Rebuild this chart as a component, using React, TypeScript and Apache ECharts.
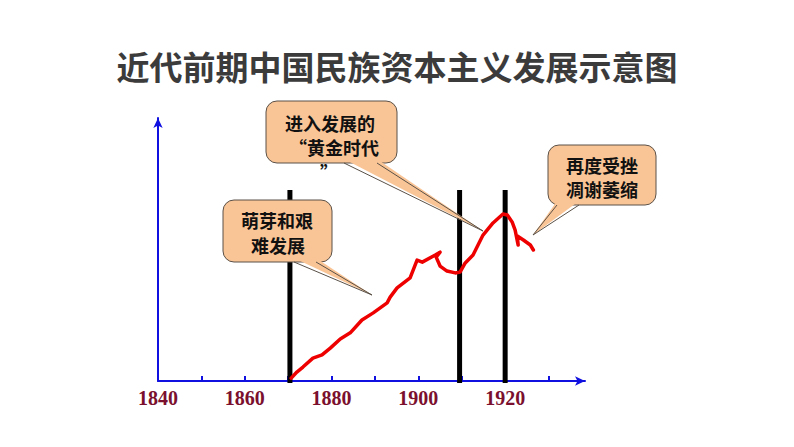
import React, { useEffect, useRef } from "react";
import * as echarts from "echarts";

const titleText = "近代前期中国民族资本主义发展示意图";
const xMin = 1840;
const xMax = 1938.4;
const tickInterval = 10;
const labelEvery = 20;

// Red development curve: [year, relative index]
const growthYears = [
  1870.7, 1872.0, 1873.4, 1875.7, 1877.8, 1879.7, 1882.0, 1884.3, 1887.0, 1889.6,
  1892.8, 1893.5, 1895.1, 1898.1, 1899.7, 1900.9, 1903.9, 1905.0, 1904.1, 1905.0,
  1906.6, 1908.5, 1909.6, 1910.8, 1912.6, 1914.9, 1917.2, 1919.5, 1920.5, 1921.6,
  1922.3, 1923.0, 1922.8, 1924.2, 1925.8, 1926.5,
];
const growthValues = [
  1.1, 3.4, 5.3, 8.7, 9.9, 12.5, 16.0, 18.3, 23.2, 25.9,
  29.7, 31.9, 35.4, 39.2, 46.0, 45.2, 47.9, 49.0, 47.1, 43.7,
  41.8, 41.1, 41.4, 44.9, 47.9, 55.5, 60.1, 63.5, 63.1, 60.5,
  57.4, 51.7, 55.1, 53.6, 51.7, 49.8,
];

// Period dividing lines
const dividerYears = [1870.4, 1909.5, 1920.0];
const dividerBottom = -0.8;
const dividerTop = 72.6;

// Callouts
const callout1Lines = ["萌芽和艰", "难发展"];
const callout2Lines = ["进入发展的", "“黄金时代", "”"];
const callout3Lines = ["再度受挫", "凋谢萎缩"];

const FILL = "#FAC596";
const BORDER = "#5a5148";
const TXT_FONT = '"Noto Sans CJK SC", sans-serif';

function callout(
  rect: { x: number; y: number; w: number; h: number },
  base: [number, number][],
  tip: [number, number],
  texts: { text: string; x: number; y: number }[]
) {
  const els: any[] = [];
  els.push({
    type: "rect",
    shape: { x: rect.x, y: rect.y, width: rect.w, height: rect.h, r: 11 },
    style: { fill: FILL, stroke: BORDER, lineWidth: 1 },
    z: 10,
  });
  els.push({
    type: "polygon",
    shape: { points: [base[0], tip, base[1]] },
    style: { fill: FILL, stroke: null },
    z: 11,
  });
  els.push({
    type: "polyline",
    shape: { points: [[base[0][0], rect.y + rect.h], tip, [base[1][0], rect.y + rect.h]] },
    style: { stroke: BORDER, lineWidth: 1, fill: null },
    z: 12,
  });
  texts.forEach((t) => {
    els.push({
      type: "text",
      x: t.x,
      y: t.y,
      style: {
        text: t.text,
        font: `bold 18px ${TXT_FONT}`,
        fill: "#111",
        align: "center",
        verticalAlign: "middle",
      },
      z: 13,
    });
  });
  return els;
}

export default function App() {
  const ref = useRef<HTMLDivElement>(null);
  useEffect(() => {
    if (!ref.current) return;
    const chart = echarts.init(ref.current, undefined, { renderer: "svg" });
    const curve = growthYears.map((y, i) => [y, growthValues[i]]);
    const dividerSeries = dividerYears.map((yr) => ({
      type: "line",
      data: [
        [yr, dividerBottom],
        [yr, dividerTop],
      ],
      symbol: "none",
      clip: false,
      lineStyle: { color: "#000", width: 5 },
      z: 3,
    }));
    const graphics = [
      ...callout(
        { x: 223, y: 200, w: 109, h: 62 },
        [
          [294, 258],
          [316, 258],
        ],
        [372, 295],
        [
          { text: callout1Lines[0], x: 277, y: 220 },
          { text: callout1Lines[1], x: 278, y: 245 },
        ]
      ),
      ...callout(
        { x: 266, y: 101, w: 131, h: 62 },
        [
          [344, 159],
          [377, 159],
        ],
        [483, 231],
        [
          { text: callout2Lines[0], x: 330, y: 123 },
          { text: callout2Lines[1], x: 334, y: 147 },
          { text: callout2Lines[2], x: 329, y: 172 },
        ]
      ),
      ...callout(
        { x: 548, y: 145, w: 108, h: 60 },
        [
          [557, 201],
          [579, 201],
        ],
        [533, 235],
        [
          { text: callout3Lines[0], x: 602, y: 165 },
          { text: callout3Lines[1], x: 602, y: 189 },
        ]
      ),
    ];
    chart.setOption({
      animation: false,
      backgroundColor: "#fff",
      title: {
        text: titleText,
        left: "center",
        top: 44,
        textStyle: {
          fontFamily: TXT_FONT,
          fontSize: 33,
          fontWeight: "bold",
          color: "#3b3b3b",
        },
      },
      grid: { left: 158, top: 118, width: 427, bottom: 66, containLabel: false },
      xAxis: {
        type: "value",
        min: xMin,
        max: xMax,
        interval: tickInterval,
        splitLine: { show: false },
        axisLine: {
          show: true,
          symbol: ["none", "arrow"],
          symbolSize: [7, 10],
          lineStyle: { color: "#1010E0", width: 2 },
        },
        axisTick: { show: true, inside: true, length: 5, lineStyle: { color: "#1010E0", width: 2 } },
        axisLabel: {
          showMaxLabel: false,
          margin: 7,
          color: "#7A0F2E",
          fontFamily: "Liberation Serif",
          fontWeight: "bold",
          fontSize: 20,
          formatter: (v: number) => (v % labelEvery === 0 ? String(v) : ""),
        },
      },
      yAxis: {
        type: "value",
        min: 0,
        max: 100,
        splitLine: { show: false },
        axisLine: {
          show: true,
          symbol: ["none", "arrow"],
          symbolSize: [7, 10],
          lineStyle: { color: "#1010E0", width: 2 },
        },
        axisTick: { show: false },
        axisLabel: { show: false },
      },
      series: [
        ...dividerSeries,
        {
          type: "line",
          data: curve,
          symbol: "none",
          clip: false,
          lineStyle: { color: "#EE0000", width: 3.5, cap: "round", join: "round" },
          z: 4,
        },
      ],
      graphic: graphics,
    });
    return () => chart.dispose();
  }, []);
  return <div ref={ref} style={{ width: 794, height: 447, margin: -8 }} />;
}
